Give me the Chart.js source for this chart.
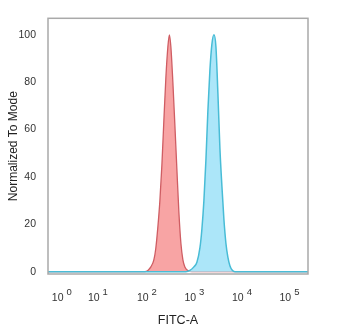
<!DOCTYPE html>
<html>
<head>
<meta charset="utf-8">
<script src="https://cdn.jsdelivr.net/npm/chart.js@4.4.1/dist/chart.umd.min.js"></script>
<style>
  html, body { margin: 0; padding: 0; background: #fff; }
  #wrap { width: 350px; height: 329px; }
</style>
</head>
<body>
<div id="wrap"><canvas id="histChart"></canvas></div>
<script>
// x values are display decades on the biexponential FITC-A axis
const decadeTicks = [0.21, 0.97, 2, 3, 4, 5];
const decadeExponents = ['0', '1', '2', '3', '4', '5'];
const modeTicks = [0, 20, 40, 60, 80, 100];

// isotype control (red)
const isotypeX = [-0.08, 1.958, 2.021, 2.084, 2.147, 2.189, 2.232, 2.274, 2.316, 2.358, 2.400, 2.442, 2.474,
                  2.505, 2.547, 2.589, 2.632, 2.674, 2.716, 2.758, 2.800, 2.863, 2.947, 5.39];
const isotypeY = [0, 0, 0.5, 2, 5, 10, 19, 30, 45, 64, 82, 95, 100,
                  95, 80, 62, 43, 25, 12, 5, 2, 0.5, 0, 0];

// stained sample (blue)
const stainedX = [-0.08, 2.821, 2.905, 2.989, 3.053, 3.116, 3.158, 3.200, 3.242, 3.284, 3.326, 3.368, 3.411,
                  3.453, 3.495, 3.537, 3.579, 3.621, 3.663, 3.705, 3.747, 3.789, 3.853, 5.39];
const stainedY = [0, 0, 0.5, 2, 4, 10, 18, 30, 47, 68, 85, 96, 100,
                  95, 75, 52, 36, 22, 12, 6, 2.5, 0.8, 0, 0];

const toPoints = (xs, ys) => xs.map((x, i) => ({ x: x, y: ys[i] }));

// box around the plot plus 10^n labels with raised exponents
const histDecor = {
    id: 'histDecor',
    afterDraw(chart) {
        const { ctx, chartArea } = chart;
        const xScale = chart.scales.x;
        ctx.save();
        ctx.strokeStyle = '#a9a9a9';
        ctx.lineWidth = 1.5;
        ctx.strokeRect(chartArea.left, chartArea.top,
            chartArea.right - chartArea.left, chartArea.bottom - chartArea.top);

        ctx.fillStyle = '#333';
        ctx.textBaseline = 'middle';
        ctx.textAlign = 'left';
        decadeTicks.forEach((v, i) => {
            const px = xScale.getPixelForValue(v);
            ctx.font = '10.5px Arial, "Liberation Sans", sans-serif';
            const baseW = ctx.measureText('10').width;
            ctx.font = '9.5px Arial, "Liberation Sans", sans-serif';
            const expW = ctx.measureText(decadeExponents[i]).width;
            const gap = 3;
            const start = px - (baseW + gap + expW) / 2;
            ctx.font = '10.5px Arial, "Liberation Sans", sans-serif';
            ctx.fillText('10', start, 298);
            ctx.font = '9.5px Arial, "Liberation Sans", sans-serif';
            ctx.fillText(decadeExponents[i], start + baseW + gap, 292);
        });
        ctx.restore();
    }
};

new Chart(document.getElementById('histChart'), {
    type: 'line',
    data: {
        datasets: [
            {
                label: 'Isotype',
                data: toPoints(isotypeX, isotypeY),
                borderColor: '#cf5d63',
                backgroundColor: '#f8a4a4',
                borderWidth: 1.3,
                fill: 'origin',
                pointRadius: 0,
                cubicInterpolationMode: 'monotone',
                order: 1
            },
            {
                label: 'Stained',
                data: toPoints(stainedX, stainedY),
                borderColor: '#48bcd6',
                backgroundColor: '#ace6f9',
                borderWidth: 1.5,
                fill: 'origin',
                pointRadius: 0,
                cubicInterpolationMode: 'monotone',
                order: 0
            }
        ]
    },
    options: {
        responsive: true,
        maintainAspectRatio: false,
        animation: false,
        layout: { padding: { top: 15, right: 42, left: 0, bottom: 0 } },
        plugins: {
            legend: { display: false },
            tooltip: { enabled: false }
        },
        scales: {
            x: {
                type: 'linear',
                min: -0.08,
                max: 5.39,
                grid: { display: false, drawTicks: false },
                border: { display: false },
                ticks: { display: false },
                afterBuildTicks: (scale) => { scale.ticks = decadeTicks.map(v => ({ value: v })); },
                afterFit: (scale) => { scale.height = 55; },
                title: {
                    display: true,
                    text: 'FITC-A',
                    color: '#222',
                    font: { family: 'Arial, "Liberation Sans", sans-serif', size: 12.5 },
                    padding: { top: 0, bottom: 1 }
                }
            },
            y: {
                type: 'linear',
                min: -1,
                max: 107,
                grid: { display: false, drawTicks: false },
                border: { display: false },
                afterBuildTicks: (scale) => { scale.ticks = modeTicks.map(v => ({ value: v })); },
                afterFit: (scale) => { scale.width = 48; },
                ticks: {
                    color: '#333',
                    padding: 12,
                    font: { family: 'Arial, "Liberation Sans", sans-serif', size: 10.5 }
                },
                title: {
                    display: true,
                    text: 'Normalized To Mode',
                    color: '#222',
                    font: { family: 'Arial, "Liberation Sans", sans-serif', size: 12 },
                    padding: { top: 6, bottom: 0 }
                }
            }
        }
    },
    plugins: [histDecor]
});
</script>
</body>
</html>
